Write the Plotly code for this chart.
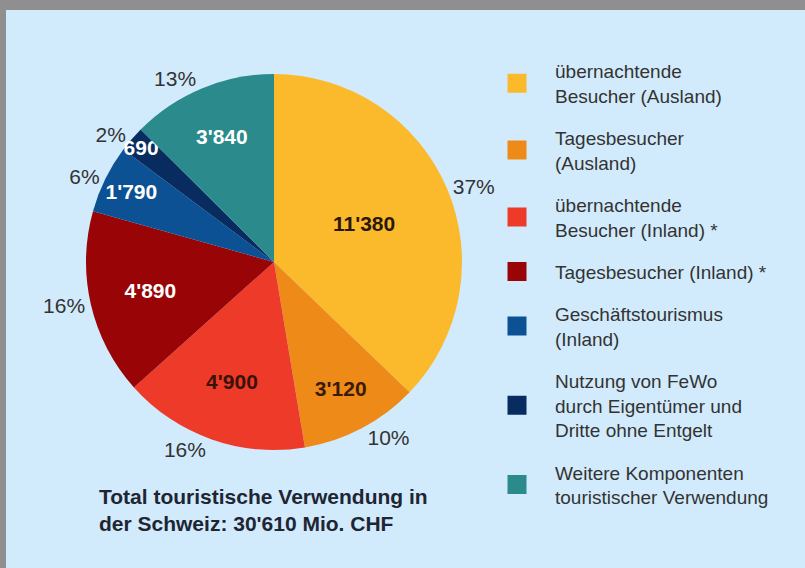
import plotly.graph_objects as go

categories = [
    "übernachtende<br>Besucher (Ausland)",
    "Tagesbesucher<br>(Ausland)",
    "übernachtende<br>Besucher (Inland) *",
    "Tagesbesucher (Inland) *",
    "Geschäftstourismus<br>(Inland)",
    "Nutzung von FeWo<br>durch Eigentümer und<br>Dritte ohne Entgelt",
    "Weitere Komponenten<br>touristischer Verwendung",
]
values = [11380, 3120, 4900, 4890, 1790, 690, 3840]
colors = ["#FBBA2C", "#EE8A17", "#EE3A28", "#990406", "#0C5194", "#092C60", "#2A8A8C"]
inside_text_colors = ["#2A1808", "#3A1A08", "#3A1208", "#FFFFFF", "#FFFFFF", "#FFFFFF", "#FFFFFF"]
total_label = "Total touristische Verwendung in<br>der Schweiz: 30'610 Mio. CHF"

W, H = 805, 568
cx, cy, r = 274, 262, 188
dom_x = [(cx - r) / W, (cx + r) / W]
dom_y = [(H - cy - r) / H, (H - cy + r) / H]
FONT = "Liberation Sans, Arial, sans-serif"

fig = go.Figure()

fig.add_trace(go.Pie(
    labels=categories, values=values, sort=False, direction="clockwise", rotation=0,
    marker=dict(colors=colors, line=dict(width=0)),
    textposition="inside", insidetextorientation="horizontal",
    texttemplate="<b>%{value:,}</b>",
    textfont=dict(family=FONT, size=21, color=inside_text_colors),
    domain=dict(x=dom_x, y=dom_y), showlegend=False, hoverinfo="label+value+percent",
))

fig.add_trace(go.Pie(
    labels=categories, values=values, sort=False, direction="clockwise", rotation=0,
    marker=dict(colors=["rgba(0,0,0,0)"] * len(values), line=dict(width=0)),
    textposition="outside", texttemplate="%{percent:.0%}",
    textfont=dict(family=FONT, size=17, color="#333333"),
    domain=dict(x=dom_x, y=dom_y), showlegend=False, hoverinfo="skip",
))

for i, (cat, col) in enumerate(zip(categories, colors)):
    fig.add_trace(go.Scatter(
        x=[None], y=[None], mode="markers", name=cat,
        marker=dict(symbol="square", size=16, color=col, line=dict(color=col, width=3)),
        legendgroup=f"g{i}", showlegend=True, hoverinfo="skip",
    ))

fig.add_annotation(
    text="<b>" + total_label + "</b>", xref="paper", yref="paper",
    x=97 / W, y=1 - 483 / H, xanchor="left", yanchor="top", align="left", showarrow=False,
    font=dict(family=FONT, size=21, color="#1E2533"),
)

fig.add_shape(type="rect", xref="paper", yref="paper", x0=6 / W, x1=1, y0=0, y1=1 - 10 / H,
              fillcolor="#D2EBFC", line=dict(width=0), layer="below")

fig.update_layout(
    width=W, height=H, margin=dict(l=0, r=0, t=0, b=0),
    paper_bgcolor="#8F8F8F", plot_bgcolor="rgba(0,0,0,0)",
    separators=".'",
    uniformtext=dict(minsize=21, mode="show"),
    xaxis=dict(visible=False), yaxis=dict(visible=False),
    legend=dict(
        x=479 / W, y=1 - 52 / H, xanchor="left", yanchor="top",
        bgcolor="rgba(0,0,0,0)", tracegroupgap=14.5, itemwidth=66,
        font=dict(family=FONT, size=19, color="#333333"),
    ),
    showlegend=True,
)

fig.write_html(
    "out.html",
    config={"displayModeBar": False},
    post_script="document.body.style.margin='0';document.body.style.overflow='hidden';",
)
